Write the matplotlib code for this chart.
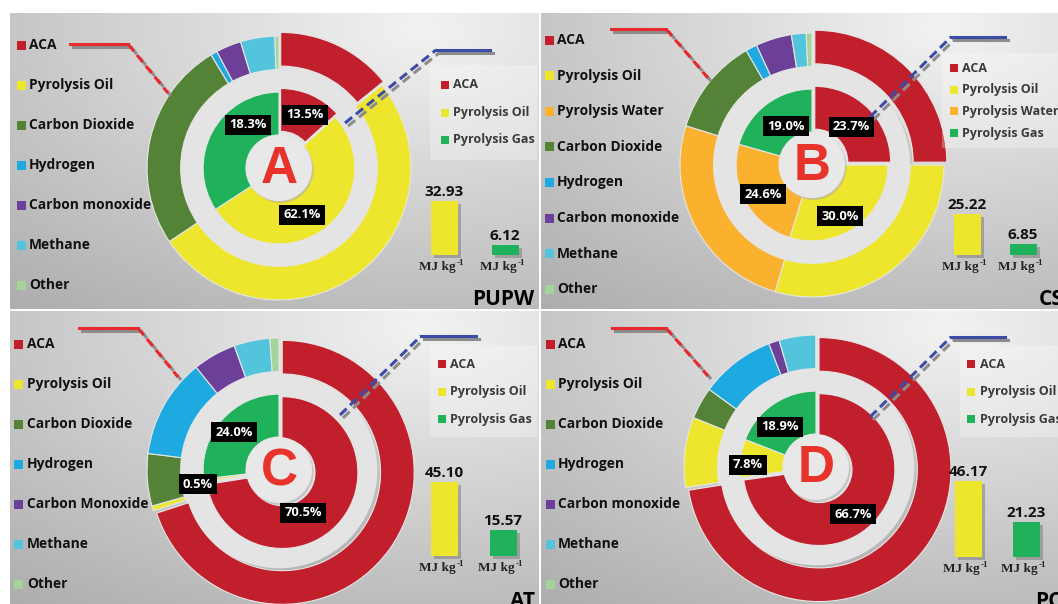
import numpy as np
import matplotlib
matplotlib.use("Agg")
import matplotlib.pyplot as plt
from matplotlib.patches import Rectangle, Circle

plt.rcParams['font.family'] = ['Open Sans', 'DejaVu Sans']

W, H = 1058, 604

# ---------------- data ----------------
letters = ["A", "B", "C", "D"]
feedstocks = ["PUPW", "CS", "AT", "PC"]

outer_cats_A = ["ACA", "Pyrolysis Oil", "Carbon Dioxide", "Hydrogen", "Carbon monoxide", "Methane", "Other"]
outer_cats_B = ["ACA", "Pyrolysis Oil", "Pyrolysis Water", "Carbon Dioxide", "Hydrogen",
                "Carbon monoxide", "Methane", "Other"]
outer_cats_C = ["ACA", "Pyrolysis Oil", "Carbon Dioxide", "Hydrogen", "Carbon Monoxide", "Methane", "Other"]
outer_cats_D = ["ACA", "Pyrolysis Oil", "Carbon Dioxide", "Hydrogen", "Carbon monoxide", "Methane", "Other"]

outer_A = [14.2, 51.4, 25.8, 0.8, 3.1, 4.2, 0.5]
outer_B = [25.0, 29.5, 25.3, 11.9, 1.4, 4.4, 1.8, 0.7]
outer_C = [70.0, 0.6, 6.4, 12.2, 5.3, 4.4, 1.1]
outer_D = [72.5, 8.6, 3.9, 9.2, 1.3, 4.5, 0.0]

inner_cats_A = ["ACA", "Pyrolysis Oil", "Pyrolysis Gas"]
inner_cats_B = ["ACA", "Pyrolysis Oil", "Pyrolysis Water", "Pyrolysis Gas"]
inner_cats_C = ["ACA", "Pyrolysis Oil", "Pyrolysis Gas"]
inner_cats_D = ["ACA", "Pyrolysis Oil", "Pyrolysis Gas"]

inner_A = [13.3, 52.5, 34.2]
inner_B = [25.0, 29.7, 24.7, 20.6]
inner_C = [72.5, 0.6, 26.9]
inner_D = [72.8, 8.1, 19.1]

inner_pct_A = ["13.5%", "62.1%", "18.3%"]
inner_pct_B = ["23.7%", "30.0%", "24.6%", "19.0%"]
inner_pct_C = ["70.5%", "0.5%", "24.0%"]
inner_pct_D = ["66.7%", "7.8%", "18.9%"]

hhv_A = [32.93, 6.12]
hhv_B = [25.22, 6.85]
hhv_C = [45.10, 15.57]
hhv_D = [46.17, 21.23]

colors = {
    "aca": "#c11f2b",
    "pyrolysis oil": "#eee62c",
    "pyrolysis water": "#f9b12e",
    "pyrolysis gas": "#1fb25a",
    "carbon dioxide": "#548338",
    "hydrogen": "#1fa9e1",
    "carbon monoxide": "#6c3f98",
    "methane": "#52c4dc",
    "other": "#a3d59b",
}

panels = [
    (outer_cats_A, outer_A, inner_cats_A, inner_A, inner_pct_A, hhv_A),
    (outer_cats_B, outer_B, inner_cats_B, inner_B, inner_pct_B, hhv_B),
    (outer_cats_C, outer_C, inner_cats_C, inner_C, inner_pct_C, hhv_C),
    (outer_cats_D, outer_D, inner_cats_D, inner_D, inner_pct_D, hhv_D),
]

# ---------------- layout (pixels) ----------------
layouts = [
    dict(rect=(10, 13, 529, 296), c=(279, 168), leg_sq=21, leg_tx=29, leg_y0=45, leg_dy=40,
         rl_sq=445, rl_tx=453, rl_y0=85, rl_dy=27.5, rl_box=(430, 65, 107, 95),
         bar_x=(444, 505), base=255,
         red=[(70, 44), (128, 44), (168, 93)], blue=[(345, 123), (436, 50), (490, 50)],
         name=(534, 305, 'right'),
         lab=[(305, 115), (302, 215), (248, 125)]),
    dict(rect=(541, 13, 517, 296), c=(812, 165), leg_sq=549, leg_tx=557, leg_y0=40, leg_dy=35.6,
         rl_sq=954, rl_tx=962, rl_y0=68, rl_dy=21.7, rl_box=(942, 53, 116, 95),
         bar_x=(967, 1023), base=255,
         red=[(611, 29), (666, 29), (708, 78)], blue=[(870, 117), (951, 37), (1005, 37)],
         name=(1039, 305, 'left'),
         lab=[(851, 127), (840, 216), (763, 194), (786, 126)]),
    dict(rect=(10, 311, 529, 293), c=(279, 470), leg_sq=18, leg_tx=27, leg_y0=344, leg_dy=40,
         rl_sq=442, rl_tx=450, rl_y0=364, rl_dy=27.5, rl_box=(430, 345, 107, 92),
         bar_x=(444, 503), base=556,
         red=[(79, 328), (138, 328), (178, 377)], blue=[(340, 415), (421, 336), (476, 336)],
         name=(535, 607, 'right'),
         lab=[(303, 513), (198, 484), (234, 432)]),
    dict(rect=(541, 311, 517, 293), c=(816, 467), leg_sq=550, leg_tx=558, leg_y0=344, leg_dy=40,
         rl_sq=971, rl_tx=980, rl_y0=364, rl_dy=27.5, rl_box=(960, 345, 98, 92),
         bar_x=(968, 1026), base=557,
         red=[(612, 328), (666, 328), (708, 376)], blue=[(870, 417), (951, 337), (1005, 337)],
         name=(1035, 607, 'left'),
         lab=[(853, 514), (748, 465), (780, 427)]),
]

R = 132.0      # outer radius of donut in px
S = 140.0      # half size of donut axes in px
K = 1.64       # px per MJ/kg


def frac_rect(x, y, w, h):
    return [x / W, 1 - (y + h) / H, w / W, h / H]


fig = plt.figure(figsize=(W / 100, H / 100), dpi=100, facecolor="white")

ov = fig.add_axes([0, 0, 1, 1], zorder=10)
ov.set_xlim(0, W)
ov.set_ylim(H, 0)
ov.axis("off")
ov.patch.set_alpha(0)

for i, ((ocats, ovals, icats, ivals, ipct, hhv), L) in enumerate(zip(panels, layouts)):
    rx, ry, rw, rh = L["rect"]
    cx, cy = L["c"]

    # ---- background gradient ----
    bg = fig.add_axes(frac_rect(rx, ry, rw, rh), zorder=0)
    yy, xx = np.mgrid[0:1:200j, 0:1:300j]
    d = np.sqrt(((xx - 0.78) / 1.0) ** 2 + ((yy - 0.05) / 1.0) ** 2)
    val = np.clip(0.95 - 0.22 * d, 0, 1)
    bg.imshow(np.dstack([val, val, val]), extent=[0, rw, rh, 0], aspect="auto", interpolation="bilinear")
    bg.set_xlim(0, rw)
    bg.set_ylim(rh, 0)
    bg.axis("off")
    nx, ny, nha = L["name"]
    bg.text(nx - rx, ny - ry, feedstocks[i], ha=nha, va="baseline", fontsize=15, fontweight="bold",
            color="black", clip_on=True)

    # ---- donut ----
    dax = fig.add_axes(frac_rect(cx - S, cy - S, 2 * S, 2 * S), zorder=2)
    dax.add_patch(Circle((0.02, -0.025), 0.745, fc="#9a9a9a", alpha=0.35, zorder=0))
    dax.add_patch(Circle((0, 0), 0.745, fc="#e4e4e4", zorder=0.5))
    oexp = [0.03] + [0] * (len(ovals) - 1)
    dax.pie(ovals, radius=1.0, colors=[colors[c.lower()] for c in ocats], startangle=90,
            counterclock=False, explode=oexp,
            wedgeprops=dict(width=0.255, edgecolor="#e6e6e6", linewidth=0.8))
    iexp = [0.03] + [0] * (len(ivals) - 1)
    dax.pie(ivals, radius=0.575, colors=[colors[c.lower()] for c in icats], startangle=90,
            counterclock=False, explode=iexp,
            wedgeprops=dict(width=0.325, edgecolor="#e6e6e6", linewidth=0.8))
    dax.add_patch(Circle((0.012, -0.015), 0.25, fc="#a8a8a8", alpha=0.5, zorder=5))
    dax.add_patch(Circle((0, 0), 0.25, fc="#e8e8e8", zorder=6))
    dax.text(0, -0.015, letters[i], ha="center", va="center", fontsize=37, fontweight="bold",
             color="#e8332b", family="Liberation Sans", zorder=7)
    dax.set_aspect("equal")
    dax.set_xlim(-S / R, S / R)
    dax.set_ylim(-S / R, S / R)
    dax.axis("off")

    # ---- inner percentage labels ----
    for (lx, ly), t in zip(L["lab"], ipct):
        ov.text(lx, ly, t, ha="center", va="center", fontsize=9.3, fontweight="bold", color="white",
                bbox=dict(boxstyle="square,pad=0.3", fc="black", ec="none"), zorder=5)

    # ---- left legend (outer ring) ----
    for j, c in enumerate(ocats):
        y = L["leg_y0"] + j * L["leg_dy"]
        ov.add_patch(Rectangle((L["leg_sq"] - 4.5, y - 4.5), 9, 9, fc=colors[c.lower()], ec="none"))
        ov.text(L["leg_tx"], y, c, ha="left", va="center", fontsize=9.9, fontweight="bold", color="#111111")

    # ---- right legend (inner ring) ----
    bx, by, bw, bh = L["rl_box"]
    ov.add_patch(Rectangle((bx, by), bw, bh, fc="white", alpha=0.28, ec="none", zorder=0.5))
    for j, c in enumerate(icats):
        y = L["rl_y0"] + j * L["rl_dy"]
        ov.add_patch(Rectangle((L["rl_sq"] - 4, y - 4), 8, 8, fc=colors[c.lower()], ec="none"))
        ov.text(L["rl_tx"], y, c, ha="left", va="center", fontsize=9.0, fontweight="bold", color="#3a3a3a")

    # ---- heating value bars ----
    x0, x1 = L["bar_x"]
    dx = x1 - x0
    base = L["base"]
    bax = fig.add_axes(frac_rect(x0 - 0.5 * dx, base - 52 * K, 2 * dx, 55 * K), zorder=3)
    bax.set_xlim(-0.5, 1.5)
    bax.set_ylim(-3, 52)
    bax.axis("off")
    bw_ = 27.0 / dx
    sx, sy = 3.0 / dx, 3.0 / K
    bax.bar([0 + sx, 1 + sx], hhv, width=bw_, bottom=-sy, color="#6e6e6e", alpha=0.45, zorder=1)
    bax.bar([0, 1], hhv, width=bw_, color=[colors["pyrolysis oil"], colors["pyrolysis gas"]], zorder=2)
    for k, v in enumerate(hhv):
        bax.text(k, v + 1.2, f"{v:.2f}", ha="center", va="bottom", fontsize=11, fontweight="bold",
                 color="#111111", clip_on=False)
        xc = [x0, x1][k]
        ov.text(xc + 12, base + 15, "MJ kg", ha="right", va="baseline", fontsize=9.5,
                fontweight="bold", family="Liberation Serif", color="#222222")
        ov.text(xc + 12.5, base + 10, "-1", ha="left", va="baseline", fontsize=6.5,
                fontweight="bold", family="Liberation Serif", color="#222222")

    # ---- connector lines ----
    red = np.array(L["red"], dtype=float)
    blue = np.array(L["blue"], dtype=float)
    for pts, col, solid_first in ((red, "#e62a2e", True), (blue, "#3b4ba6", False)):
        sh = pts + np.array([3, 3])
        seg1s, seg2s = sh[:2], sh[1:]
        seg1, seg2 = pts[:2], pts[1:]
        st1 = "-" if solid_first else (0, (3, 1.6))
        st2 = (0, (3, 1.6)) if solid_first else "-"
        ov.plot(seg1s[:, 0], seg1s[:, 1], color="#8c8c8c", lw=2.2, ls=st1, zorder=2)
        ov.plot(seg2s[:, 0], seg2s[:, 1], color="#8c8c8c", lw=2.2, ls=st2, zorder=2)
        ov.plot(seg1[:, 0], seg1[:, 1], color=col, lw=2.2, ls=st1, zorder=3)
        ov.plot(seg2[:, 0], seg2[:, 1], color=col, lw=2.2, ls=st2, zorder=3)

fig.savefig("out.png", dpi=100, facecolor="white")
